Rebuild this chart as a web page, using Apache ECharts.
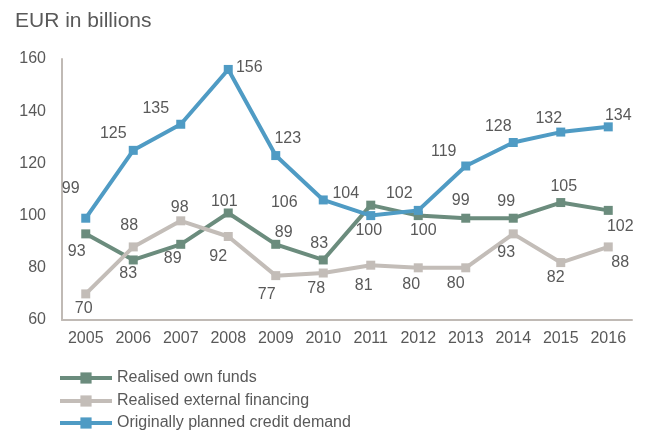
<!DOCTYPE html>
<html>
<head>
<meta charset="utf-8">
<script src="https://cdn.jsdelivr.net/npm/echarts@6/dist/echarts.min.js"></script>
<style>
  html, body { margin: 0; padding: 0; background: #fff; }
  #chart { width: 647px; height: 430px; }
</style>
</head>
<body>
<div id="chart"></div>
<script>
// Years on the category axis
const years = ['2005', '2006', '2007', '2008', '2009', '2010', '2011', '2012', '2013', '2014', '2015', '2016'];

// EUR in billions
const ownFunds = [93, 83, 89, 101, 89, 83, 104, 100, 99, 99, 105, 102];
const externalFinancing = [70, 88, 98, 92, 77, 78, 81, 80, 80, 93, 82, 88];
const plannedCreditDemand = [99, 125, 135, 156, 123, 106, 100, 102, 119, 128, 132, 134];

const seriesNames = ['Realised own funds', 'Realised external financing', 'Originally planned credit demand'];

// Value-label offsets from each marker centre, in pixels [dx, dy]
const ownFundsLabelOffsets = [[-9, 18], [-5, 14], [-8, 14], [-4, -11], [8, -12], [-4, -16], [-25, -12], [5, 15], [-5, -18], [-7, -17], [3, -16], [12, 16]];
const externalLabelOffsets = [[-2, 15], [-4, -21], [-1, -13], [-10, 20], [-9, 19], [-7, 16], [-7, 20], [-7, 17], [-10, 16], [-7, 19], [-5, 15], [12, 16]];
const plannedLabelOffsets = [[-15, -30], [-20, -17], [-25, -16], [21, -2], [12, -17], [-39, 3], [-2, 15], [-19, -17], [-22, -14], [-15, -16], [-12, -13], [10, -11]];

// Legend rows, one per series, stacked below the plot
const legendTops = [365, 388, 410];

const textColor = '#595959';
const axisColor = '#c0bab5';
const fontFamily = 'Arial, "Liberation Sans", sans-serif';

function withLabels(values, offsets) {
  return values.map((v, i) => ({
    value: v,
    label: { offset: offsets[i] }
  }));
}

function lineSeries(name, values, offsets, color) {
  return {
    name: name,
    type: 'line',
    data: withLabels(values, offsets),
    symbol: 'rect',
    symbolSize: 9,
    lineStyle: { width: 4, color: color },
    itemStyle: { color: color },
    label: {
      show: true,
      position: 'inside',
      color: textColor,
      fontSize: 16,
      fontFamily: fontFamily
    },
    emphasis: { disabled: true },
    animation: false
  };
}

const legends = seriesNames.map((name, i) => ({
  orient: 'vertical',
  left: 53,
  top: legendTops[i],
  itemWidth: 52,
  itemHeight: 14,
  lineStyle: { width: 4 },
  selectedMode: false,
  textStyle: { color: textColor, fontSize: 16, fontFamily: fontFamily },
  data: [name]
}));

const chart = echarts.init(document.getElementById('chart'), null, { renderer: 'canvas' });
chart.setOption({
  backgroundColor: '#ffffff',
  title: {
    text: 'EUR in billions',
    left: 10,
    top: 6,
    textStyle: { color: textColor, fontSize: 21, fontWeight: 'normal', fontFamily: fontFamily }
  },
  legend: legends,
  grid: { left: 62, right: 15, top: 59, bottom: 110 },
  xAxis: {
    type: 'category',
    data: years,
    boundaryGap: true,
    axisLine: { lineStyle: { color: axisColor, width: 2 } },
    axisTick: { show: false },
    axisLabel: { color: textColor, fontSize: 16, fontFamily: fontFamily, margin: 11 }
  },
  yAxis: {
    type: 'value',
    min: 60,
    max: 160,
    interval: 20,
    axisLine: { show: true, lineStyle: { color: axisColor, width: 2 } },
    axisTick: { show: false },
    splitLine: { show: false },
    axisLabel: { color: textColor, fontSize: 16, fontFamily: fontFamily, margin: 16 }
  },
  series: [
    lineSeries(seriesNames[0], ownFunds, ownFundsLabelOffsets, '#6b8c7d'),
    lineSeries(seriesNames[1], externalFinancing, externalLabelOffsets, '#c3bdb8'),
    lineSeries(seriesNames[2], plannedCreditDemand, plannedLabelOffsets, '#4f9bc4')
  ]
});
</script>
</body>
</html>
